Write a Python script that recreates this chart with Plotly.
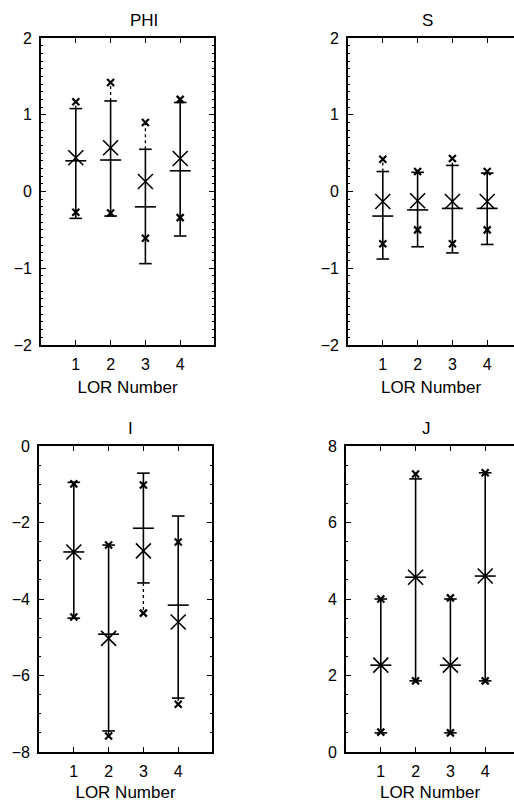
import plotly.graph_objects as go

lor = [1, 2, 3, 4]

# PHI
phi_mean = [0.44, 0.57, 0.13, 0.43]
phi_median = [0.40, 0.41, -0.20, 0.27]
phi_cap_hi = [1.08, 1.18, 0.55, 1.16]
phi_cap_lo = [-0.35, -0.32, -0.94, -0.58]
phi_max = [1.17, 1.42, 0.90, 1.20]
phi_min = [-0.27, -0.28, -0.61, -0.34]

# S
s_mean = [-0.13, -0.12, -0.13, -0.13]
s_median = [-0.32, -0.24, -0.22, -0.22]
s_cap_hi = [0.26, 0.25, 0.34, 0.24]
s_cap_lo = [-0.88, -0.72, -0.80, -0.69]
s_max = [0.42, 0.26, 0.43, 0.26]
s_min = [-0.68, -0.50, -0.68, -0.50]

# I
i_mean = [-2.77, -5.03, -2.74, -4.60]
i_median = [-2.77, -4.92, -2.15, -4.16]
i_cap_hi = [-0.95, -2.59, -0.71, -1.83]
i_cap_lo = [-4.50, -7.45, -3.58, -6.59]
i_max = [-0.99, -2.59, -1.02, -2.51]
i_min = [-4.47, -7.58, -4.37, -6.75]

# J
j_mean = [2.27, 4.57, 2.27, 4.60]
j_median = [2.27, 4.57, 2.27, 4.60]
j_cap_hi = [4.00, 7.14, 4.00, 7.30]
j_cap_lo = [0.50, 1.86, 0.50, 1.86]
j_max = [4.00, 7.27, 4.03, 7.30]
j_min = [0.52, 1.86, 0.50, 1.86]

panels = [
    ("PHI", phi_mean, phi_median, phi_cap_hi, phi_cap_lo, phi_max, phi_min),
    ("S", s_mean, s_median, s_cap_hi, s_cap_lo, s_max, s_min),
    ("I", i_mean, i_median, i_cap_hi, i_cap_lo, i_max, i_min),
    ("J", j_mean, j_median, j_cap_hi, j_cap_lo, j_max, j_min),
]

W, H = 514, 802
FONT = "Liberation Sans, Arial, Helvetica, sans-serif"

# pixel boxes (left, right, top, bottom) for layout only
boxes = [(41, 214, 38, 345), (348, 514, 38, 345), (39, 212, 446, 752), (346, 514, 446, 752)]
yranges = [[-2, 2], [-2, 2], [-8, 0], [0, 8]]
ydticks = [1, 1, 2, 2]
yminor = [0.1, 0.1, 0.5, 0.5]
px_per_x = 34.8

fig = go.Figure()
layout = dict(width=W, height=H, margin=dict(l=0, r=0, t=0, b=0, autoexpand=False),
              paper_bgcolor="white", plot_bgcolor="white", showlegend=False,
              font=dict(family=FONT, size=16, color="black"))
annotations = []

for k, (title, mean, med, chi, clo, mx, mn) in enumerate(panels):
    xa = "x" if k == 0 else f"x{k+1}"
    ya = "y" if k == 0 else f"y{k+1}"
    left, right, top, bottom = boxes[k]
    xr = [0, (right - left) / px_per_x]
    right_side = k in (1, 3)

    vx, vy = [], []
    dx, dy = [], []
    for i, x in enumerate(lor):
        vx += [x, x, None]
        vy += [clo[i], chi[i], None]
        if mx[i] > chi[i]:
            dx += [x, x, None]
            dy += [chi[i], mx[i], None]
        if mn[i] < clo[i]:
            dx += [x, x, None]
            dy += [clo[i], mn[i], None]
    fig.add_trace(go.Scatter(x=vx, y=vy, mode="lines", xaxis=xa, yaxis=ya,
                             line=dict(color="black", width=1.6), hoverinfo="skip"))
    if dx:
        fig.add_trace(go.Scatter(x=dx, y=dy, mode="lines", xaxis=xa, yaxis=ya,
                                 line=dict(color="black", width=1.3, dash="dot"), hoverinfo="skip"))
    # caps
    fig.add_trace(go.Scatter(x=lor + lor, y=chi + clo, mode="markers", xaxis=xa, yaxis=ya,
                             marker=dict(symbol="line-ew-open", size=9, color="black",
                                         line=dict(color="black", width=1.6))))
    # medians
    fig.add_trace(go.Scatter(x=lor, y=med, mode="markers", xaxis=xa, yaxis=ya,
                             marker=dict(symbol="line-ew-open", size=15, color="black",
                                         line=dict(color="black", width=1.6))))
    # extremes
    fig.add_trace(go.Scatter(x=lor + lor, y=mx + mn, mode="markers", xaxis=xa, yaxis=ya,
                             marker=dict(symbol="x-thin-open", size=7, color="black",
                                         line=dict(color="black", width=2.2))))
    # means
    fig.add_trace(go.Scatter(x=lor, y=mean, mode="markers", xaxis=xa, yaxis=ya,
                             marker=dict(symbol="x-thin-open", size=15, color="black",
                                         line=dict(color="black", width=1.6))))

    xd = [left / W, right / W]
    yd = [1 - bottom / H, 1 - top / H]
    layout["xaxis" if k == 0 else f"xaxis{k+1}"] = dict(
        domain=xd, range=xr, anchor=ya, tickmode="array", tickvals=lor,
        ticktext=[str(v) for v in lor], ticks="inside", ticklen=5, tickwidth=1,
        tickcolor="black", showline=True, linecolor="black", linewidth=1.6,
        mirror="ticks", showgrid=False, zeroline=False, ticklabelstandoff=4,
        automargin=False,
        title=dict(text="LOR Number", standoff=9, font=dict(size=17)),
        tickfont=dict(size=16))
    layout["yaxis" if k == 0 else f"yaxis{k+1}"] = dict(
        domain=yd, range=yranges[k], anchor=xa, dtick=ydticks[k], ticks="inside",
        ticklen=5, tickwidth=1, tickcolor="black", showline=True, linecolor="black",
        linewidth=1.6, mirror=(False if right_side else "ticks"), showgrid=False,
        zeroline=False, tickfont=dict(size=16), ticklabelstandoff=4, automargin=False,
        minor=dict(dtick=yminor[k], ticks="inside", ticklen=2, tickcolor="black", showgrid=False))
    annotations.append(dict(text=title, x=(xd[0] + xd[1]) / 2 if not right_side else (left + 87) / W,
                            y=yd[1], xref="paper", yref="paper", yanchor="bottom",
                            yshift=6, showarrow=False, font=dict(size=17)))

layout["annotations"] = annotations
fig.update_layout(**layout)
fig.write_html("out.html", config={"displayModeBar": False},
               post_script="document.body.style.margin='0';document.body.style.overflow='hidden';")
